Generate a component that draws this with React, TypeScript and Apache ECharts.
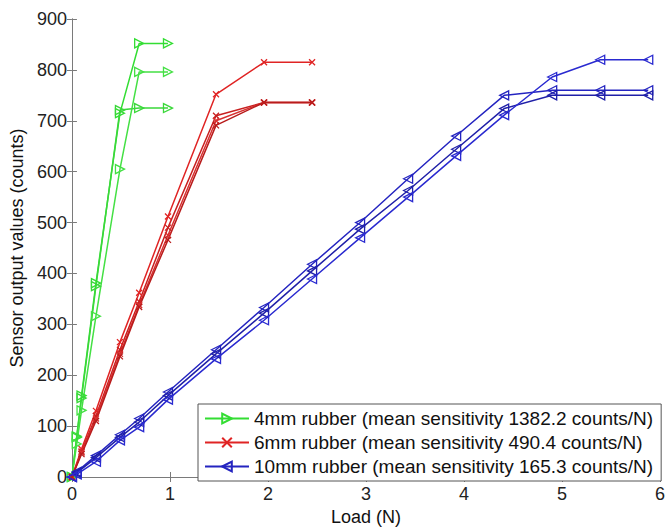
import React, { useEffect, useRef } from "react";
import * as echarts from "echarts";

const xTicks = [0, 1, 2, 3, 4, 5, 6];
const yTicks = [0, 100, 200, 300, 400, 500, 600, 700, 800, 900];

const legendNames = [
  "4mm rubber (mean sensitivity 1382.2 counts/N)",
  "6mm rubber (mean sensitivity 490.4 counts/N)",
  "10mm rubber (mean sensitivity 165.3 counts/N)",
];

const greenX = [0, 0.049, 0.098, 0.245, 0.49, 0.686, 0.98];
const green1 = [0, 80, 160, 381, 715, 852, 852];
const green2 = [0, 78, 155, 375, 721, 725, 725];
const green3 = [0, 65, 131, 316, 605, 796, 796];

const redX = [0, 0.098, 0.245, 0.49, 0.686, 0.98, 1.47, 1.96, 2.45];
const red1 = [0, 55, 130, 265, 362, 512, 752, 815, 815];
const red2 = [0, 50, 120, 250, 345, 490, 710, 736, 736];
const red3 = [0, 48, 115, 242, 338, 475, 700, 736, 736];
const red4 = [0, 45, 110, 237, 334, 466, 691, 736, 736];

const blueX = [0, 0.049, 0.245, 0.49, 0.686, 0.98, 1.47, 1.96, 2.45, 2.94, 3.43, 3.92, 4.41, 4.9, 5.39, 5.88];
const blue1 = [0, 10, 42, 83, 115, 167, 250, 333, 418, 500, 586, 670, 750, 760, 760, 760];
const blue2 = [0, 8, 38, 78, 108, 160, 242, 322, 405, 487, 563, 644, 724, 750, 750, 750];
const blue3 = [0, 5, 30, 72, 98, 152, 232, 308, 389, 470, 550, 631, 711, 786, 820, 820];

const GREEN = "#33dd33";
const RED = "#e02424";
const BLUE = "#2424c0";

function zip(xs: number[], ys: number[]) {
  return xs.map((x, i) => [x, ys[i]]);
}

export default function App() {
  const ref = useRef<HTMLDivElement>(null);
  useEffect(() => {
    if (!ref.current) return;
    const chart = echarts.init(ref.current, undefined, { renderer: "svg" });
    const font = "'Liberation Sans', Arial, sans-serif";
    const xPath = "path://M0,0L10,10M10,0L0,10";

    const mk = (
      name: string,
      xs: number[],
      ys: number[],
      color: string,
      symbol: string,
      rotate: number,
      size: number
    ) => ({
      type: "line",
      name,
      data: zip(xs, ys),
      symbol,
      symbolRotate: rotate,
      symbolSize: size,
      showAllSymbol: true,
      lineStyle: { color, width: 1.5 },
      itemStyle: { color: "rgba(255,255,255,0)", borderColor: color, borderWidth: 1.3 },
      emphasis: { disabled: true },
      z: 3,
    });

    const axisLine = { show: true, lineStyle: { color: "#7a7a7a", width: 1 } };

    chart.setOption({
      animation: false,
      backgroundColor: "#ffffff",
      grid: { left: 71.4, right: 4.4, top: 19, bottom: 46.5, containLabel: false },
      legend: {
        show: true,
        data: legendNames,
        orient: "vertical",
        left: 198,
        top: 404,
        itemWidth: 44,
        itemHeight: 12,
        itemGap: 5,
        padding: [5, 8, 5, 6],
        backgroundColor: "#ffffff",
        borderColor: "#555555",
        borderWidth: 1,
        borderRadius: 0,
        textStyle: { fontSize: 19, fontFamily: font, color: "#111111" },
        selectedMode: false,
      },
      xAxis: [
        {
          type: "value",
          min: 0,
          max: 6,
          interval: 1,
          name: "Load (N)",
          nameLocation: "middle",
          nameGap: 31,
          nameTextStyle: { fontSize: 18, fontFamily: font, color: "#111111" },
          axisLine,
          axisTick: { show: true, inside: true, length: 5, lineStyle: { color: "#7a7a7a" } },
          axisLabel: { fontSize: 18, fontFamily: font, color: "#222222", margin: 8 },
          splitLine: { show: false },
        },
        {
          type: "value",
          position: "top",
          min: 0,
          max: 6,
          interval: 1,
          axisLine,
          axisTick: { show: true, inside: true, length: 5, lineStyle: { color: "#7a7a7a" } },
          axisLabel: { show: false },
          splitLine: { show: false },
        },
      ],
      yAxis: [
        {
          type: "value",
          min: 0,
          max: 900,
          interval: 100,
          name: "Sensor output values (counts)",
          nameLocation: "middle",
          nameGap: 40,
          nameRotate: 90,
          nameTextStyle: { fontSize: 18, fontFamily: font, color: "#111111" },
          axisLine,
          axisTick: { show: true, inside: true, length: 5, lineStyle: { color: "#7a7a7a" } },
          axisLabel: { fontSize: 18, fontFamily: font, color: "#222222", margin: 5 },
          splitLine: { show: false },
        },
        {
          type: "value",
          position: "right",
          min: 0,
          max: 900,
          interval: 100,
          axisLine,
          axisTick: { show: true, inside: true, length: 5, lineStyle: { color: "#7a7a7a" } },
          axisLabel: { show: false },
          splitLine: { show: false },
        },
      ],
      series: [
        mk(legendNames[0], greenX, green1, GREEN, "triangle", -90, 9),
        mk(legendNames[0], greenX, green2, "#3ad83a", "triangle", -90, 9),
        mk(legendNames[0], greenX, green3, "#44e044", "triangle", -90, 9),
        mk(legendNames[1], redX, red1, RED, xPath, 0, 6),
        mk(legendNames[1], redX, red2, "#c82020", xPath, 0, 6),
        mk(legendNames[1], redX, red3, "#d83030", xPath, 0, 6),
        mk(legendNames[1], redX, red4, "#b81c1c", xPath, 0, 6),
        mk(legendNames[2], blueX, blue1, BLUE, "triangle", 90, 9),
        mk(legendNames[2], blueX, blue2, "#2020a8", "triangle", 90, 9),
        mk(legendNames[2], blueX, blue3, "#2a2ad0", "triangle", 90, 9),
      ],
    });
    return () => chart.dispose();
  }, []);
  return (
    <div
      ref={ref}
      style={{ position: "absolute", left: 0, top: 0, width: 668, height: 531 }}
    />
  );
}
